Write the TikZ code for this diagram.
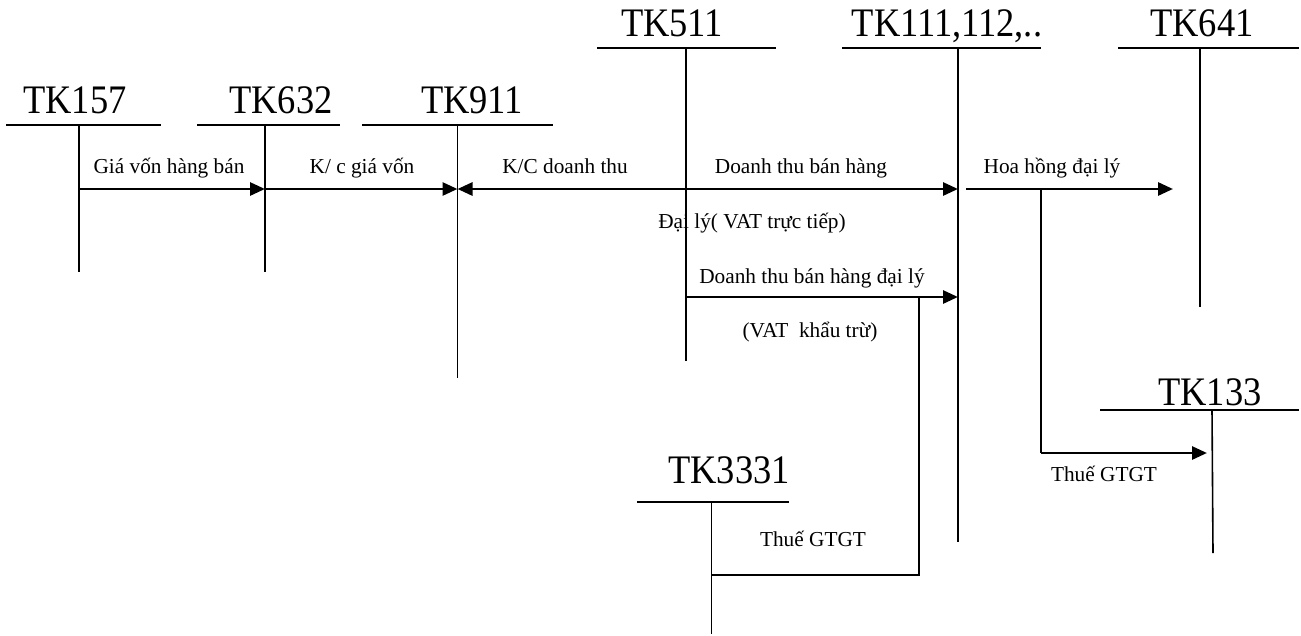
\documentclass[tikz,border=0pt]{standalone}
\usepackage{fontspec}
\setmainfont{Liberation Serif}
\usetikzlibrary{arrows.meta}
\begin{document}
\begin{tikzpicture}[x=1pt,y=-1pt,
  acct/.style={anchor=base,inner sep=0pt,font=\fontsize{40.5}{44}\selectfont},
  lbl/.style={anchor=base,inner sep=0pt,font=\fontsize{21.3}{24}\selectfont},
  bar/.style={line width=2pt},
  tline/.style={line width=1.6pt},
  flow/.style={line width=2.8pt,-{Triangle[length=15pt,width=13pt]}},
  plain/.style={line width=2.2pt}]
\useasboundingbox (0,0) rectangle (1301,635);
% account labels
\node[acct] (t157) at (75,113) {\scalebox{0.9}[1]{TK157}};
\node[acct] (t632) at (281,113) {\scalebox{0.9}[1]{TK632}};
\node[acct] (t911) at (472,113) {\scalebox{0.9}[1]{TK911}};
\node[acct] (t511) at (672,36) {\scalebox{0.9}[1]{TK511}};
\node[acct] (t111) at (947,36) {\scalebox{0.9}[1]{TK111,112,..}};
\node[acct] (t641) at (1202,36) {\scalebox{0.9}[1]{TK641}};
\node[acct] (t133) at (1210,405) {\scalebox{0.9}[1]{TK133}};
\node[acct] (t3331) at (729,483) {\scalebox{0.9}[1]{TK3331}};
% T-account bars
\draw[bar] (6,125) -- (161,125);
\draw[bar] (197,125) -- (340,125);
\draw[bar] (362,125) -- (553,125);
\draw[bar] (597,48) -- (776,48);
\draw[bar] (842,48) -- (1041,48);
\draw[bar] (1118,48) -- (1299,48);
\draw[bar] (1100,410) -- (1299,410);
\draw[bar] (637,502) -- (789,502);
% vertical lines
\coordinate (v157) at (79,125);   \coordinate (e157) at (79,272);
\coordinate (v632) at (265,125);  \coordinate (e632) at (265,272);
\coordinate (v911) at (457.5,125);\coordinate (e911) at (457.5,378);
\coordinate (v511) at (686,48);   \coordinate (e511) at (686,361);
\coordinate (v111) at (958,48);   \coordinate (e111) at (958,542);
\coordinate (v641) at (1200,48);  \coordinate (e641) at (1200,307);
\coordinate (v133) at (1212,410); \coordinate (e133) at (1213,553);
\coordinate (v3331) at (711.5,502); \coordinate (e3331) at (711.5,634);
\foreach \a in {157,632,911,511,111,641,133,3331}
  \draw[tline] (v\a) -- (e\a);
% flows
\coordinate (a157) at (79,189);
\coordinate (a632) at (265,189);
\coordinate (a911) at (457.5,189);
\coordinate (a511) at (686,189);
\coordinate (a111) at (958,189);
\coordinate (h0) at (966,189);
\coordinate (h641) at (1173,189);
\coordinate (b511) at (686,297);
\coordinate (b111) at (958,297);
\coordinate (c1) at (1041,190);
\coordinate (c2) at (1041,453);
\coordinate (c133) at (1207,453);
\coordinate (d1) at (919,298);
\coordinate (d2) at (919,575);
\coordinate (d3331) at (711.5,575);
\draw[flow] (a157) -- (a632);
\draw[flow] (a632) -- (a911);
\draw[flow] (a511) -- (a911);
\draw[flow] (a511) -- (a111);
\draw[flow] (h0) -- (h641);
\draw[flow] (b511) -- (b111);
\draw[plain] (c1) -- (c2);
\draw[flow] (c2) -- (c133);
\draw[plain] (d1) -- (d2) -- (d3331);
% labels
\node[lbl] (l1) at (169,173) {Giá vốn hàng bán};
\node[lbl] (l2) at (362,173) {K/ c giá vốn};
\node[lbl] (l3) at (565,173) {K/C doanh thu};
\node[lbl] (l4) at (801,173) {Doanh thu bán hàng};
\node[lbl] (l5) at (1052,173) {Hoa hồng đại lý};
\node[lbl] (l6) at (752,228) {Đại lý( VAT trực tiếp)};
\node[lbl] (l7) at (812,283) {Doanh thu bán hàng đại lý};
\node[lbl] (l8) at (810,337) {(VAT\ \ khẩu trừ)};
\node[lbl] (l9) at (1104,481) {Thuế GTGT};
\node[lbl] (l10) at (813,546) {Thuế GTGT};
\end{tikzpicture}
\end{document}
